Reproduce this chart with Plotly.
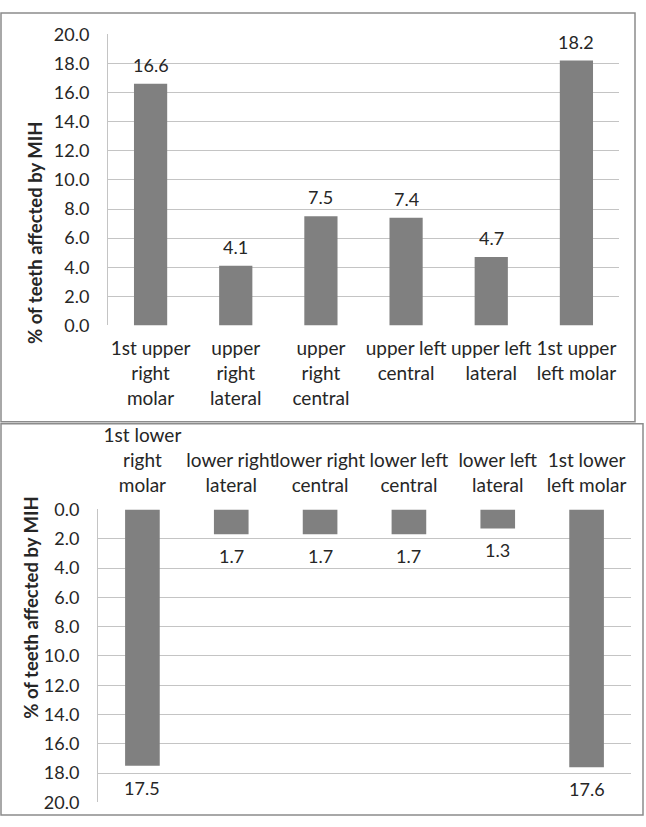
import plotly.graph_objects as go

# ---- data ----
upper_categories = ["1st upper<br>right<br>molar", "upper<br>right<br>lateral", "upper<br>right<br>central",
                    "upper left<br>central", "upper left<br>lateral", "1st upper<br>left molar"]
upper_values = [16.6, 4.1, 7.5, 7.4, 4.7, 18.2]

lower_categories = ["1st lower<br>right<br>molar", "lower right<br>lateral", "lower right<br>central",
                    "lower left<br>central", "lower left<br>lateral", "1st lower<br>left molar"]
lower_values = [17.5, 1.7, 1.7, 1.7, 1.3, 17.6]

y_title = "% of teeth affected by MIH"
y_ticks = [0, 2, 4, 6, 8, 10, 12, 14, 16, 18, 20]

W, H = 646, 827
FONT = "Lato"
TXT = "#262626"
BAR = "#808080"
GRID = "#c4c4c4"
BORDER = "#8c8c8c"

def fx(px):
    return px / W

def fy(py):
    return 1 - py / H

fig = go.Figure()
fig.add_trace(go.Bar(x=upper_categories, y=upper_values, marker_color=BAR,
                     marker_line_width=0, xaxis="x", yaxis="y", hoverinfo="skip"))
fig.add_trace(go.Bar(x=lower_categories, y=lower_values, marker_color=BAR,
                     marker_line_width=0, xaxis="x2", yaxis="y2", hoverinfo="skip"))

annotations = []
for c, v in zip(upper_categories, upper_values):
    annotations.append(dict(x=c, y=v, xref="x", yref="y", text=f"{v:.1f}", showarrow=False,
                            yanchor="middle", yshift=19, font=dict(family=FONT, size=18, color=TXT)))
for c, v in zip(lower_categories, lower_values):
    annotations.append(dict(x=c, y=v, xref="x2", yref="y2", text=f"{v:.1f}", showarrow=False,
                            yanchor="middle", yshift=-22, font=dict(family=FONT, size=18, color=TXT)))
# axis titles
annotations.append(dict(x=fx(35), y=fy(227), xref="paper", yref="paper", text=f"<b>{y_title}</b>",
                        textangle=-90, showarrow=False, xanchor="center", yanchor="middle",
                        font=dict(family=FONT, size=18.5, color=TXT)))
annotations.append(dict(x=fx(31), y=fy(612), xref="paper", yref="paper", text=f"<b>{y_title}</b>",
                        textangle=-90, showarrow=False, xanchor="center", yanchor="middle",
                        font=dict(family=FONT, size=18.5, color=TXT)))

shapes = [
    dict(type="rect", xref="paper", yref="paper", x0=fx(1), x1=fx(635), y0=fy(421), y1=fy(1),
         line=dict(color=BORDER, width=1.5)),
    dict(type="rect", xref="paper", yref="paper", x0=fx(1), x1=fx(643), y0=fy(825), y1=fy(423),
         line=dict(color=BORDER, width=1.5)),
]

yaxis_common = dict(tickvals=y_ticks, tickformat=".1f", showgrid=True, gridcolor=GRID, gridwidth=1,
                    showline=True, linecolor=GRID, linewidth=1, zeroline=False,
                    ticks="outside", ticklen=14, tickcolor="rgba(0,0,0,0)",
                    tickfont=dict(family=FONT, size=18, color=TXT))
xaxis_common = dict(showgrid=False, showline=False, zeroline=False, ticks="outside",
                    tickcolor="rgba(0,0,0,0)", tickfont=dict(family=FONT, size=19, color=TXT),
                    tickangle=0)

fig.update_layout(
    width=W, height=H, margin=dict(l=0, r=0, t=0, b=0),
    paper_bgcolor="white", plot_bgcolor="white", showlegend=False, bargap=0.61,
    font=dict(family=FONT, color=TXT),
    xaxis=dict(domain=[fx(108), fx(619)], anchor="y", ticklen=6, **xaxis_common),
    yaxis=dict(domain=[fy(322), fy(23)], range=[0, 20], anchor="x", **yaxis_common),
    xaxis2=dict(domain=[fx(98), fx(631)], anchor="y2", side="top", ticklen=9, **xaxis_common),
    yaxis2=dict(domain=[fy(812), fy(511)], range=[20, 0], anchor="x2", **yaxis_common),
    annotations=annotations, shapes=shapes,
)

fig.write_html("out.html", config={"displayModeBar": False},
               post_script="document.body.style.margin='0';")
